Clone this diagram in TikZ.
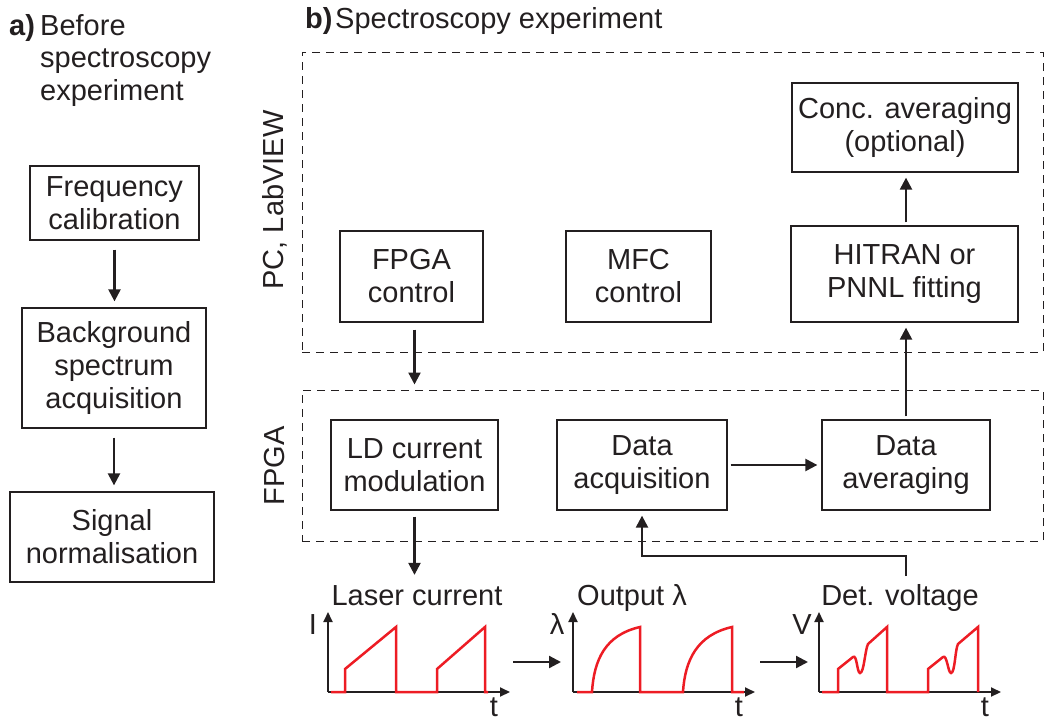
\documentclass[tikz,border=0pt]{standalone}
\usepackage{fontspec}
\setmainfont{Liberation Sans}
\usetikzlibrary{arrows.meta,calc}
\definecolor{sigred}{RGB}{237,28,36}
\definecolor{ink}{RGB}{35,31,32}
\tikzset{
  txt/.style={font=\fontsize{29}{33}\selectfont, text=ink, inner sep=0pt},
  box/.style={draw=ink, line width=1.3pt, align=center, font=\fontsize{29}{33}\selectfont, text=ink, inner sep=0pt},
  dashbox/.style={draw=ink, line width=1pt, dash pattern=on 8pt off 6pt, inner sep=0pt},
  arr/.style={draw=ink, line width=2.3pt, -{Triangle[length=12pt,width=12pt]}},
  axis/.style={draw=ink, line width=2pt, -{Triangle[length=10pt,width=9pt]}},
  sig/.style={draw=sigred, line width=2.5pt, line join=miter},
}
\begin{document}
\begin{tikzpicture}[x=1pt,y=-1pt]
\useasboundingbox (0,0) rectangle (1049,720);
% headings
\node[txt, anchor=base west] (alab) at (9,35) {\textbf{a)}};
\node[txt, anchor=base west] (atitle1) at (40,35) {Before};
\node[txt, anchor=base west] (atitle2) at (40,67.5) {spectroscopy};
\node[txt, anchor=base west] (atitle3) at (40,100) {experiment};
\node[txt, anchor=base west] (blab) at (305,28) {\textbf{b)}};
\node[txt, anchor=base west] (btitle) at (335,28) {Spectroscopy experiment};
% left column
\node[box, minimum width=169pt, minimum height=74pt] (freq) at (114.5,203) {Frequency\\calibration};
\node[box, minimum width=184pt, minimum height=120pt] (bg) at (114,368) {Background\\spectrum\\acquisition};
\node[box, minimum width=204pt, minimum height=90pt] (sig) at (112,537) {Signal\\normalisation};
\draw[arr, shorten <=9pt, shorten >=6pt] (freq.south) -- (freq.south |- bg.north);
\draw[arr, shorten <=9pt, shorten >=6pt] (bg.south) -- (bg.south |- sig.north);
% dashed regions
\node[dashbox, minimum width=741pt, minimum height=300pt] (pcbox) at (672.5,202) {};
\node[dashbox, minimum width=741pt, minimum height=151pt] (fpgabox) at (672.5,465.5) {};
\node[txt, rotate=90] (pclab) at (275,200) {PC, LabVIEW};
\node[txt, rotate=90] (fpgalab) at (275,466) {FPGA};
% PC boxes
\node[box, minimum width=143pt, minimum height=91pt] (fctl) at (411.5,276.5) {FPGA\\control};
\node[box, minimum width=145pt, minimum height=91pt] (mfc) at (638.5,276.5) {MFC\\control};
\node[box, minimum width=227pt, minimum height=96pt] (hit) at (904.5,274) {HITRAN or\\PNNL fitting};
\node[box, minimum width=226pt, minimum height=89pt] (conc) at (905,127.5) {Conc. averaging\\(optional)};
% FPGA boxes
\node[box, minimum width=167pt, minimum height=90pt] (ld) at (414.5,465) {LD current\\modulation};
\node[box, minimum width=170pt, minimum height=90pt] (daq) at (642,465) {Data\\acquisition};
\node[box, minimum width=168pt, minimum height=90pt] (davg) at (906,465) {Data\\averaging};
% arrows
\draw[arr, shorten <=7pt, shorten >=5pt] (fctl.south -| ld.north) -- (fpgabox.north -| ld.north);
\draw[arr, shorten <=3pt, shorten >=4pt] (daq.east) -- (davg.west);
\draw[arr, shorten <=3pt, shorten >=5pt] (davg.north) -- (davg.north |- hit.south);
\draw[arr, shorten <=3pt, shorten >=5pt] (davg.north |- hit.north) -- (davg.north |- conc.south);
% plot labels
\node[txt, anchor=base] (laser) at (417,605) {Laser current};
\node[txt, anchor=base] (outl) at (632,605) {Output λ};
\node[txt, anchor=base] (detv) at (900,605) {Det. voltage};
\draw[arr, shorten <=6pt, shorten >=10pt] (ld.south) -- (ld.south |- laser.north);
\coordinate (detstart) at (906,576);
\coordinate (turn) at (906,556);
\draw[arr, shorten >=5pt] (detstart) -- (turn) -| (daq.south);
% plot 1
\coordinate (o1) at (328,692);
\draw[axis] (o1) -- ++(0,-80) coordinate (y1);
\draw[axis] (o1) -- ++(182,0) coordinate (x1);
\node[txt, anchor=base] (i1) at (313,634) {I};
\node[txt, anchor=base] (t1) at (494,716) {t};
\draw[sig] (331,692) -- (345,692) -- (345,669) -- (396,627) -- (396,692) -- (437,692) -- (437,669) -- (485,627) -- (485,692) -- (488,692);
% plot 2
\coordinate (o2) at (573,692);
\draw[axis] (o2) -- ++(0,-80) coordinate (y2);
\draw[axis] (o2) -- ++(182,0) coordinate (x2);
\node[txt, anchor=base] (l2) at (557,634) {λ};
\node[txt, anchor=base] (t2) at (739,716) {t};
\draw[sig] (577,692) -- (592,692) .. controls (594,660) and (605,635) .. (640,627) -- (640,692) -- (683,692) .. controls (685,660) and (697,635) .. (732,627) -- (732,692) -- (744,692);
% plot 3
\coordinate (o3) at (819,692);
\draw[axis] (o3) -- ++(0,-80) coordinate (y3);
\draw[axis] (o3) -- ++(182,0) coordinate (x3);
\node[txt, anchor=base] (v3) at (802,634) {V};
\node[txt, anchor=base] (t3) at (985,716) {t};
\draw[sig] (822,692) -- (838,692) -- (838,669) -- (853,657) .. controls (857,654) and (857,673) .. (860,673) .. controls (864,673) and (865,650) .. (868,644) -- (887,627) -- (887,692) -- (928,692) -- (928,669) -- (943,657) .. controls (947,654) and (948,673) .. (951,673) .. controls (955,673) and (955,650) .. (958,644) -- (978,627) -- (978,692);
% arrows between plots
\coordinate (a1s) at (513,662);
\coordinate (a1e) at (561,662);
\coordinate (a2s) at (760,662);
\coordinate (a2e) at (808,662);
\draw[arr] (a1s) -- (a1e);
\draw[arr] (a2s) -- (a2e);
\end{tikzpicture}
\end{document}
